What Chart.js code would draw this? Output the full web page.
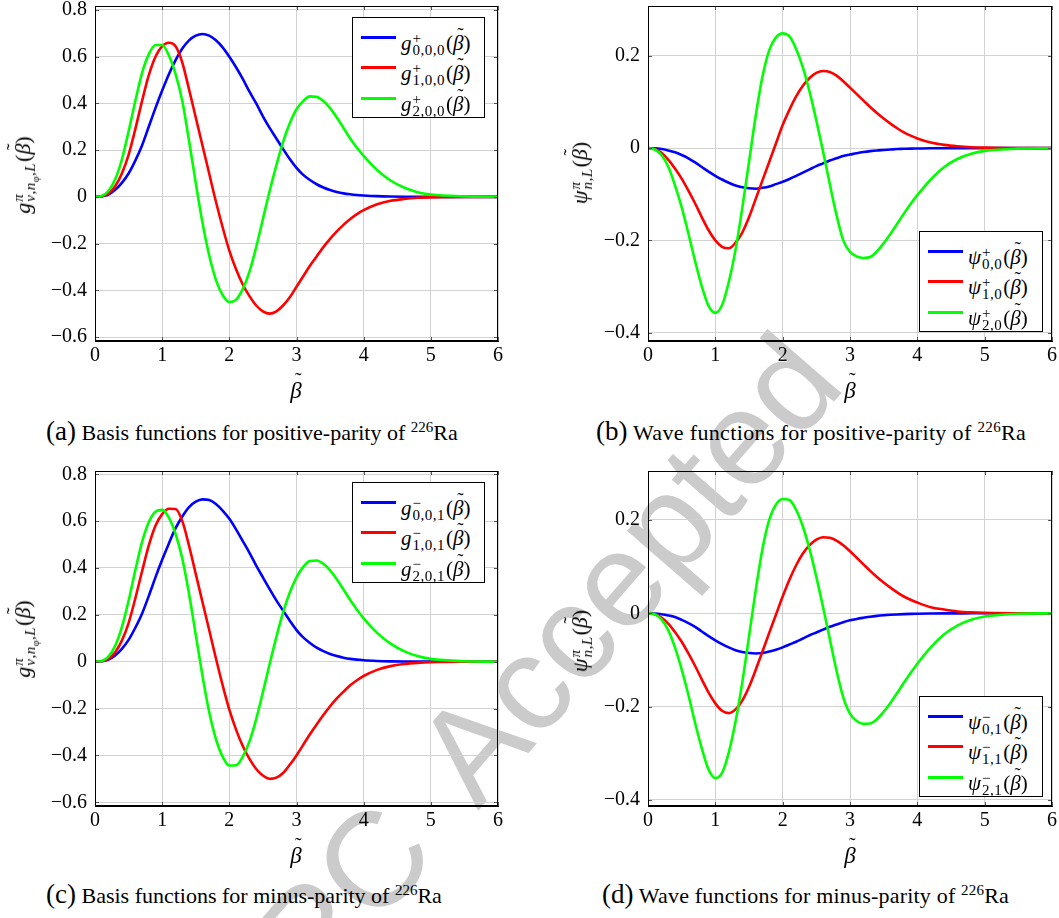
<!DOCTYPE html>
<html>
<head>
<meta charset="utf-8">
<script src="https://cdn.jsdelivr.net/npm/chart.js"></script>
<style>
  body { margin: 0; background: #fff; }
  #fig { position: relative; width: 1059px; height: 918px; overflow: hidden; background: #fff; font-family: "Liberation Serif", "DejaVu Serif", serif; color: #000; }
  .panel { position: absolute; z-index: 1; }
  .wm { position: absolute; left: 0; top: 0; z-index: 0; }
  .leg { position: absolute; z-index: 2; border: 1px solid #000; background: #fff; box-sizing: border-box; }
  .leg .ln { position: absolute; left: 8px; width: 35px; height: 3px; }
  .leg .tx { position: absolute; left: 48px; font-size: 21px; line-height: 20px; white-space: nowrap; }
  .ss { display: inline-flex; flex-direction: column; vertical-align: 7px; font-size: 15px; line-height: 12px; margin-left: 1px; margin-right: 1px; letter-spacing: 0.5px; }
  .bt { position: relative; display: inline-block; font-style: italic; }
  .bt .tld { position: absolute; left: 0.22em; top: -0.42em; font-style: normal; font-size: 0.9em; }
  .ytitle { position: absolute; z-index: 2; font-size: 22px; white-space: nowrap; transform: translate(-50%, -50%) rotate(-90deg); }
  .xtitle { position: absolute; z-index: 2; font-size: 23px; transform: translate(-50%, -50%); }
  .cap { position: absolute; z-index: 2; font-size: 22px; white-space: nowrap; }
  .cap .lab { font-size: 27px; letter-spacing: 0; }
  .cap sup { font-size: 15px; vertical-align: 8px; }
</style>
</head>
<body>
<div id="fig">
  <svg class="wm" width="1059" height="918"><text x="253" y="1070" transform="rotate(-49 253 1070)" font-family="Liberation Sans" font-size="135" word-spacing="28" fill="#cbcbcb">CPC Accepted</text></svg>
  <div class="panel" style="left:0;top:0"><canvas id="ca" width="520" height="401"></canvas></div>
  <div class="panel" style="left:540px;top:0"><canvas id="cb" width="519" height="401"></canvas></div>
  <div class="panel" style="left:0;top:465px"><canvas id="cc" width="520" height="401"></canvas></div>
  <div class="panel" style="left:540px;top:465px"><canvas id="cd" width="519" height="401"></canvas></div>

  <div class="cap" style="left:46px;top:416px;letter-spacing:0"><span class="lab">(a)</span> Basis functions for positive-parity of <sup>226</sup>Ra</div>
  <div class="cap" style="left:596px;top:416px;letter-spacing:0.35px"><span class="lab">(b)</span> Wave functions for positive-parity of <sup>226</sup>Ra</div>
  <div class="cap" style="left:46px;top:879px;letter-spacing:0"><span class="lab">(c)</span> Basis functions for minus-parity of <sup>226</sup>Ra</div>
  <div class="cap" style="left:602px;top:879px;letter-spacing:0.2px"><span class="lab">(d)</span> Wave functions for minus-parity of <sup>226</sup>Ra</div>
</div>
<script>
// beta grid shared by every curve
const betas = [0, 0.1, 0.2, 0.3, 0.4, 0.5, 0.6, 0.7, 0.8, 0.9, 1.0, 1.1, 1.2, 1.3, 1.4, 1.5, 1.6, 1.7, 1.8, 1.9,
  2.0, 2.1, 2.2, 2.3, 2.4, 2.5, 2.6, 2.7, 2.8, 2.9, 3.0, 3.1, 3.2, 3.3, 3.4, 3.5, 3.6, 3.7, 3.8, 3.9, 4.0,
  4.2, 4.4, 4.6, 4.8, 5.0, 5.5, 6.0];

// (a) basis functions, positive parity
const gPos0 = [0, 0.002, 0.01, 0.03, 0.06, 0.10, 0.155, 0.22, 0.30, 0.38, 0.455, 0.525, 0.585, 0.635, 0.67, 0.69, 0.697, 0.69, 0.67, 0.64,
  0.60, 0.555, 0.505, 0.45, 0.40, 0.345, 0.295, 0.25, 0.205, 0.162, 0.124, 0.094, 0.072, 0.054, 0.04, 0.029, 0.021, 0.015, 0.011, 0.008, 0.006,
  0.003, 0.0015, 0.0007, 0.0003, 0.0001, 0, 0];
const gPos1 = [0, 0.003, 0.015, 0.045, 0.10, 0.18, 0.29, 0.41, 0.52, 0.60, 0.645, 0.66, 0.645, 0.575, 0.46, 0.34, 0.22, 0.10, -0.02, -0.13,
  -0.23, -0.31, -0.375, -0.425, -0.465, -0.49, -0.50, -0.49, -0.465, -0.43, -0.385, -0.34, -0.295, -0.255, -0.215, -0.18, -0.148, -0.12, -0.095, -0.074, -0.057,
  -0.032, -0.017, -0.009, -0.004, -0.002, 0, 0];
const gPos2 = [0, 0.004, 0.025, 0.075, 0.16, 0.28, 0.41, 0.53, 0.61, 0.65, 0.65, 0.605, 0.525, 0.41, 0.24, 0.06, -0.11, -0.25, -0.355, -0.42,
  -0.45, -0.44, -0.395, -0.32, -0.215, -0.095, 0.025, 0.135, 0.235, 0.315, 0.375, 0.41, 0.43, 0.428, 0.41, 0.38, 0.34, 0.295, 0.25, 0.21, 0.175,
  0.115, 0.07, 0.04, 0.02, 0.01, 0.002, 0];

// (b) wave functions, positive parity
const psiPos0 = [0, -0.0005, -0.002, -0.005, -0.009, -0.015, -0.022, -0.031, -0.041, -0.051, -0.06, -0.068, -0.075, -0.081, -0.085, -0.087, -0.088, -0.086, -0.083, -0.078,
  -0.073, -0.067, -0.06, -0.053, -0.046, -0.039, -0.033, -0.027, -0.022, -0.017, -0.014, -0.011, -0.0085, -0.0065, -0.005, -0.004, -0.003, -0.002, -0.0015, -0.001, -0.0008,
  -0.0004, -0.0002, -0.0001, 0, 0, 0, 0];
const psiPos1 = [0, -0.002, -0.01, -0.025, -0.044, -0.066, -0.092, -0.12, -0.15, -0.178, -0.2, -0.214, -0.217, -0.205, -0.183, -0.15, -0.11, -0.07, -0.03, 0.01,
  0.05, 0.083, 0.112, 0.135, 0.152, 0.163, 0.167, 0.165, 0.157, 0.145, 0.131, 0.117, 0.103, 0.089, 0.076, 0.064, 0.053, 0.043, 0.034, 0.027, 0.021,
  0.012, 0.007, 0.004, 0.002, 0.001, 0, 0];
const psiPos2 = [0, -0.003, -0.015, -0.04, -0.08, -0.128, -0.185, -0.245, -0.3, -0.342, -0.357, -0.34, -0.29, -0.22, -0.13, -0.03, 0.07, 0.155, 0.212, 0.24,
  0.249, 0.242, 0.215, 0.175, 0.122, 0.06, -0.007, -0.078, -0.145, -0.2, -0.225, -0.235, -0.238, -0.236, -0.224, -0.206, -0.186, -0.164, -0.142, -0.121, -0.102,
  -0.068, -0.041, -0.023, -0.012, -0.006, -0.001, 0];

// (c) basis functions, minus parity
const gNeg0 = [0, 0.002, 0.009, 0.027, 0.055, 0.093, 0.145, 0.205, 0.28, 0.36, 0.435, 0.505, 0.57, 0.62, 0.66, 0.683, 0.693, 0.69, 0.673, 0.645,
  0.61, 0.565, 0.515, 0.465, 0.41, 0.36, 0.31, 0.262, 0.218, 0.175, 0.135, 0.104, 0.08, 0.06, 0.045, 0.033, 0.024, 0.017, 0.012, 0.009, 0.006,
  0.003, 0.0015, 0.0007, 0.0003, 0.0001, 0, 0];
const gNeg1 = [0, 0.002, 0.013, 0.04, 0.09, 0.165, 0.27, 0.385, 0.495, 0.58, 0.63, 0.653, 0.652, 0.6, 0.495, 0.375, 0.255, 0.135, 0.015, -0.1,
  -0.205, -0.29, -0.36, -0.415, -0.458, -0.486, -0.5, -0.495, -0.475, -0.44, -0.4, -0.355, -0.31, -0.268, -0.228, -0.19, -0.157, -0.128, -0.101, -0.079, -0.061,
  -0.035, -0.019, -0.01, -0.005, -0.002, 0, 0];
const gNeg2 = [0, 0.003, 0.022, 0.068, 0.148, 0.26, 0.39, 0.51, 0.595, 0.64, 0.648, 0.615, 0.545, 0.44, 0.29, 0.115, -0.06, -0.215, -0.33, -0.405,
  -0.443, -0.442, -0.405, -0.34, -0.245, -0.13, -0.01, 0.105, 0.21, 0.295, 0.36, 0.405, 0.43, 0.432, 0.418, 0.39, 0.352, 0.308, 0.263, 0.222, 0.185,
  0.123, 0.077, 0.045, 0.024, 0.012, 0.002, 0];

// (d) wave functions, minus parity
const psiNeg0 = [0, -0.0005, -0.002, -0.0045, -0.008, -0.014, -0.021, -0.029, -0.039, -0.049, -0.058, -0.066, -0.073, -0.079, -0.083, -0.085, -0.086, -0.085, -0.082, -0.078,
  -0.073, -0.067, -0.061, -0.054, -0.047, -0.041, -0.035, -0.029, -0.024, -0.019, -0.015, -0.012, -0.0095, -0.0072, -0.0055, -0.0042, -0.0032, -0.0024, -0.0017, -0.0012, -0.0009,
  -0.0005, -0.0002, -0.0001, 0, 0, 0, 0];
const psiNeg1 = [0, -0.002, -0.009, -0.022, -0.04, -0.061, -0.086, -0.113, -0.142, -0.17, -0.193, -0.209, -0.214, -0.206, -0.187, -0.158, -0.121, -0.082, -0.042, -0.003,
  0.036, 0.072, 0.103, 0.128, 0.146, 0.158, 0.163, 0.162, 0.156, 0.146, 0.133, 0.119, 0.105, 0.091, 0.078, 0.066, 0.055, 0.045, 0.036, 0.029, 0.023,
  0.013, 0.008, 0.004, 0.002, 0.001, 0, 0];
const psiNeg2 = [0, -0.002, -0.013, -0.036, -0.073, -0.12, -0.175, -0.235, -0.29, -0.335, -0.353, -0.342, -0.298, -0.232, -0.148, -0.05, 0.05, 0.138, 0.2, 0.233,
  0.245, 0.243, 0.222, 0.186, 0.137, 0.078, 0.013, -0.055, -0.123, -0.18, -0.215, -0.231, -0.237, -0.236, -0.227, -0.211, -0.192, -0.171, -0.149, -0.128, -0.108,
  -0.073, -0.045, -0.026, -0.014, -0.007, -0.001, 0];

// ticks
const xTicks = [0, 1, 2, 3, 4, 5, 6];
const yTicksG = [-0.6, -0.4, -0.2, 0, 0.2, 0.4, 0.6, 0.8];
const yTicksPsi = [-0.4, -0.2, 0, 0.2];

const colors = ['#0000ff', '#ff0000', '#00ff00'];
const tickFont = { family: '"Liberation Serif", "DejaVu Serif", serif', size: 20 };
const BT = '<span class="bt">β<span class="tld">˜</span></span>';

function fmt(v) {
  if (Math.abs(v) < 1e-9) return '0';
  return (v < 0 ? '\u2212' : '') + Math.abs(v).toFixed(1);
}

// box frame with small inward tick marks, like pgfplots
const framePlugin = {
  id: 'frame',
  afterDraw(chart) {
    const { ctx, chartArea: a, scales } = chart;
    ctx.save();
    ctx.strokeStyle = '#555';
    ctx.lineWidth = 1;
    ctx.beginPath();
    scales.x.ticks.forEach(t => {
      const px = Math.round(scales.x.getPixelForValue(t.value)) + 0.5;
      ctx.moveTo(px, a.top); ctx.lineTo(px, a.top + 4);
      ctx.moveTo(px, a.bottom); ctx.lineTo(px, a.bottom - 4);
    });
    scales.y.ticks.forEach(t => {
      const py = Math.round(scales.y.getPixelForValue(t.value)) + 0.5;
      ctx.moveTo(a.left, py); ctx.lineTo(a.left + 4, py);
      ctx.moveTo(a.right, py); ctx.lineTo(a.right - 4, py);
    });
    ctx.stroke();
    ctx.strokeStyle = '#000';
    ctx.strokeRect(Math.round(a.left) + 0.5, Math.round(a.top) + 0.5, Math.round(a.right - a.left) - 1, Math.round(a.bottom - a.top) - 1);
    ctx.restore();
  }
};

function makeChart(id, series, yMin, yMax, yTicks, yWidth, padRight) {
  const datasets = series.map((arr, i) => ({
    data: betas.map((b, k) => ({ x: b, y: arr[k] })),
    borderColor: colors[i],
    borderWidth: 2.6,
    pointRadius: 0,
    fill: false,
    cubicInterpolationMode: 'monotone',
    order: 3 - i
  }));
  return new Chart(document.getElementById(id), {
    type: 'line',
    data: { datasets },
    plugins: [framePlugin],
    options: {
      responsive: false,
      animation: false,
      devicePixelRatio: 1,
      layout: { padding: { left: 0, right: padRight, top: 6, bottom: 0 } },
      plugins: { legend: { display: false }, tooltip: { enabled: false } },
      scales: {
        x: {
          type: 'linear', min: 0, max: 6,
          afterBuildTicks: s => { s.ticks = xTicks.map(v => ({ value: v })); },
          afterFit: s => { s.height = 60; s.paddingLeft = 0; s.paddingRight = 0; },
          ticks: { font: tickFont, color: '#000', padding: 3, maxRotation: 0, callback: v => String(v) },
          grid: { color: '#d2d2d2', lineWidth: 1, drawTicks: false },
          border: { color: '#000', width: 1 }
        },
        y: {
          type: 'linear', min: yMin, max: yMax,
          afterBuildTicks: s => { s.ticks = yTicks.map(v => ({ value: v })); },
          afterFit: s => { s.width = yWidth; s.paddingTop = 0; s.paddingBottom = 0; },
          ticks: { font: tickFont, color: '#000', padding: 8, callback: v => fmt(v) },
          grid: { color: '#d2d2d2', lineWidth: 1, drawTicks: false },
          border: { color: '#000', width: 1 }
        }
      }
    }
  });
}

makeChart('ca', [gPos0, gPos1, gPos2], -0.617, 0.817, yTicksG, 95, 22);
makeChart('cb', [psiPos0, psiPos1, psiPos2], -0.418, 0.308, yTicksPsi, 108, 7);
makeChart('cc', [gNeg0, gNeg1, gNeg2], -0.616, 0.814, yTicksG, 95, 22);
makeChart('cd', [psiNeg0, psiNeg1, psiNeg2], -0.413, 0.305, yTicksPsi, 108, 7);

const fig = document.getElementById('fig');
function addDiv(cls, css, html) {
  const d = document.createElement('div');
  d.className = cls;
  d.style.cssText = css;
  d.innerHTML = html;
  fig.appendChild(d);
  return d;
}

// axis titles
const gTitle = `<i>g</i><span class="ss"><span><i>π</i></span><span><i>ν</i>,<i>n</i><sub style="font-size:10px">φ</sub>,<i>L</i></span></span>(${BT})`;
const psiTitle = `<i>ψ</i><span class="ss"><span><i>π</i></span><span><i>n</i>,<i>L</i></span></span>(${BT})`;
addDiv('ytitle', 'left:26px;top:175px', gTitle);
addDiv('ytitle', 'left:580px;top:173px', psiTitle);
addDiv('ytitle', 'left:26px;top:639px', gTitle);
addDiv('ytitle', 'left:580px;top:641px', psiTitle);
[[296, 391], [850, 391], [296, 856], [850, 856]].forEach(p => addDiv('xtitle', `left:${p[0]}px;top:${p[1]}px`, BT));

// legends
const legends = [
  { left: 352, top: 17, width: 133, fn: 'g', sign: '+', subs: ['0,0,0', '1,0,0', '2,0,0'] },
  { left: 919, top: 231, width: 124, fn: 'ψ', sign: '+', subs: ['0,0', '1,0', '2,0'] },
  { left: 352, top: 482, width: 133, fn: 'g', sign: '\u2212', subs: ['0,0,1', '1,0,1', '2,0,1'] },
  { left: 919, top: 696, width: 124, fn: 'ψ', sign: '\u2212', subs: ['0,1', '1,1', '2,1'] }
];
const rowY = [20, 50, 81];
legends.forEach(l => {
  const box = addDiv('leg', `left:${l.left}px;top:${l.top}px;width:${l.width}px;height:101px`, '');
  l.subs.forEach((s, i) => {
    const ln = document.createElement('div');
    ln.className = 'ln';
    ln.style.top = (rowY[i] - 2) + 'px';
    ln.style.background = colors[i];
    box.appendChild(ln);
    const tx = document.createElement('div');
    tx.className = 'tx';
    tx.style.top = (rowY[i] - 6) + 'px';
    tx.innerHTML = `<i>${l.fn}</i><span class="ss"><span>${l.sign}</span><span>${s}</span></span>(${BT})`;
    box.appendChild(tx);
  });
});
</script>
</body>
</html>
